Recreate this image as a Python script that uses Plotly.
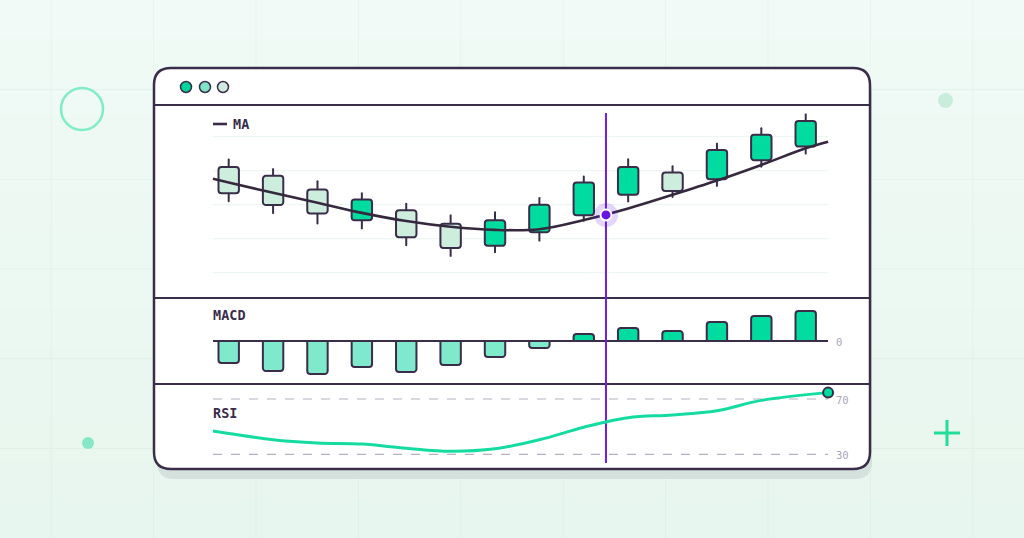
import plotly.graph_objects as go

# ---------------- data ----------------
idx = list(range(14))
open_ = [141.1, 138.5, 134.5, 125.4, 128.4, 124.4, 117.9, 121.9, 126.9, 132.9, 139.5, 137.5, 143.1, 147.1]
high = [143.6, 140.7, 137.2, 133.6, 130.6, 127.1, 128.1, 132.2, 138.6, 143.6, 141.6, 148.2, 152.8, 156.8]
low = [130.7, 127.3, 124.2, 122.8, 117.8, 114.7, 115.7, 119.2, 125.0, 130.7, 132.0, 135.3, 140.9, 144.8]
close = [133.4, 129.9, 127.4, 131.5, 120.4, 117.3, 125.4, 130.0, 136.5, 141.1, 134.0, 146.1, 150.6, 154.6]

ma_x = [-0.354, 0, 1, 2, 3, 4, 5, 6, 7, 8, 9, 10, 11, 12, 13, 13.505]
ma_y = [137.6, 136.5, 133.5, 130.6, 127.6, 125.2, 123.5, 122.6, 122.8, 125.5, 128.9, 132.9, 137.1, 141.7, 146.6, 148.5]

cursor_x = [8.5]
cursor_y = [127.0]

macd = [-2.2, -3.0, -3.3, -2.6, -3.1, -2.4, -1.6, -0.7, 0.7, 1.3, 1.0, 1.9, 2.5, 3.0]

rsi_x = [-0.354, 0, 1, 2, 3, 4, 5, 6, 7, 8, 9, 10, 11, 12, 13.505]
rsi_y = [46.8, 45.1, 40.5, 38.2, 37.4, 34.4, 32.2, 34.0, 40.5, 49.6, 56.5, 58.4, 61.5, 69.0, 74.6]

price_grid = [150, 140, 130, 120, 110]
rsi_levels = [70, 30]
rsi_labels = ["70", "30"]
macd_zero_label = "0"

# ---------------- styling ----------------
W, H = 1024, 538
DARK = "#3a2d4a"
GREEN = "#00dc9f"
LIGHT = "#cdeedd"
MINT = "#7eeacb"
PURPLE = "#6a14e2"
MONO = "DejaVu Sans Mono"


def px(x):
    return x / W


def py(y):
    return 1 - y / H


def rrect(x0, y0, x1, y1, r):
    pts = [
        ("M", [(x0 + r, y0)]), ("L", [(x1 - r, y0)]), ("Q", [(x1, y0), (x1, y0 + r)]),
        ("L", [(x1, y1 - r)]), ("Q", [(x1, y1), (x1 - r, y1)]), ("L", [(x0 + r, y1)]),
        ("Q", [(x0, y1), (x0, y1 - r)]), ("L", [(x0, y0 + r)]), ("Q", [(x0, y0), (x0 + r, y0)]),
    ]
    s = ""
    for cmd, ps in pts:
        s += cmd + " " + " ".join(f"{px(a):.5f},{py(b):.5f}" for a, b in ps) + " "
    return s + "Z"


XDOM = [px(200), px(840)]
XRANGE = [(200 - 228.7) / 44.385, (840 - 228.7) / 44.385]

fig = go.Figure()

# candle wicks
fig.add_trace(go.Bar(
    x=idx, base=low, y=[h - l for h, l in zip(high, low)], width=0.045,
    marker=dict(color=DARK, line=dict(width=0)), xaxis="x", yaxis="y", hoverinfo="skip"))
# candle bodies
fig.add_trace(go.Bar(
    x=idx, base=[min(o, c) for o, c in zip(open_, close)],
    y=[abs(c - o) for o, c in zip(open_, close)], width=0.46,
    marker=dict(color=[GREEN if c > o else LIGHT for o, c in zip(open_, close)],
                line=dict(color=DARK, width=2)),
    xaxis="x", yaxis="y", hoverinfo="skip"))
# MA line
fig.add_trace(go.Scatter(
    x=ma_x, y=ma_y, mode="lines", line=dict(color="#35283f", width=2.6, shape="spline", smoothing=1),
    xaxis="x", yaxis="y", hoverinfo="skip"))
# cursor halo + dot
fig.add_trace(go.Scatter(
    x=cursor_x, y=cursor_y, mode="markers",
    marker=dict(size=24, color="rgba(106,20,226,0.18)", line=dict(width=0)),
    xaxis="x", yaxis="y", hoverinfo="skip"))
fig.add_trace(go.Scatter(
    x=cursor_x, y=cursor_y, mode="markers",
    marker=dict(size=11, color=PURPLE, line=dict(color="white", width=2)),
    xaxis="x", yaxis="y", hoverinfo="skip"))
# MACD
fig.add_trace(go.Bar(
    x=idx, y=macd, width=0.46,
    marker=dict(color=[GREEN if v > 0 else MINT for v in macd], line=dict(color=DARK, width=2)),
    xaxis="x2", yaxis="y2", hoverinfo="skip"))
# RSI
fig.add_trace(go.Scatter(
    x=rsi_x, y=rsi_y, mode="lines", line=dict(color="#14dca0", width=3, shape="spline", smoothing=1),
    xaxis="x3", yaxis="y3", hoverinfo="skip"))
fig.add_trace(go.Scatter(
    x=rsi_x[-1:], y=rsi_y[-1:], mode="markers", cliponaxis=False,
    marker=dict(size=10, color=GREEN, line=dict(color=DARK, width=2)),
    xaxis="x3", yaxis="y3", hoverinfo="skip"))

shapes = []
# background gradient bands
top = (241, 250, 246)
bot = (231, 246, 238)
n = 14
for i in range(n):
    t = i / (n - 1)
    c = tuple(round(top[k] + (bot[k] - top[k]) * t) for k in range(3))
    shapes.append(dict(type="rect", xref="paper", yref="paper", x0=0, x1=1,
                       y0=1 - (i + 1) / n, y1=1 - i / n, fillcolor=f"rgb{c}",
                       line=dict(width=0), layer="below"))
# background grid
for k in range(10):
    x = 51.2 + 102.4 * k
    shapes.append(dict(type="line", xref="paper", yref="paper", x0=px(x), x1=px(x), y0=0, y1=1,
                       line=dict(color="rgba(0,110,70,0.045)", width=1), layer="below"))
for k in range(1, 6):
    y = 89.67 * k
    shapes.append(dict(type="line", xref="paper", yref="paper", x0=0, x1=1, y0=py(y), y1=py(y),
                       line=dict(color="rgba(0,110,70,0.045)", width=1), layer="below"))
# decorations
shapes.append(dict(type="circle", xref="paper", yref="paper", x0=px(61), x1=px(103), y0=py(130), y1=py(88),
                   line=dict(color="#80ecc8", width=2.5), fillcolor="rgba(0,0,0,0)", layer="below"))
shapes.append(dict(type="circle", xref="paper", yref="paper", x0=px(938), x1=px(953), y0=py(108), y1=py(93),
                   line=dict(width=0), fillcolor="#c8eedb", layer="below"))
shapes.append(dict(type="circle", xref="paper", yref="paper", x0=px(82), x1=px(94), y0=py(449), y1=py(437),
                   line=dict(width=0), fillcolor="#88e7c6", layer="below"))
shapes.append(dict(type="line", xref="paper", yref="paper", x0=px(934), x1=px(960), y0=py(433), y1=py(433),
                   line=dict(color="#22dd9c", width=3), layer="below"))
shapes.append(dict(type="line", xref="paper", yref="paper", x0=px(947), x1=px(947), y0=py(420), y1=py(446),
                   line=dict(color="#22dd9c", width=3), layer="below"))
# card shadow and card
shapes.append(dict(type="path", xref="paper", yref="paper", path=rrect(157, 77, 872, 479, 17),
                   fillcolor="#d4e1dc", line=dict(width=0), layer="below"))
shapes.append(dict(type="path", xref="paper", yref="paper", path=rrect(154, 68, 870, 469, 17),
                   fillcolor="white", line=dict(color=DARK, width=2.5), layer="below"))
# separators
for y in [105, 298, 384]:
    shapes.append(dict(type="line", xref="paper", yref="paper", x0=px(155), x1=px(869), y0=py(y), y1=py(y),
                       line=dict(color=DARK, width=2), layer="below"))
# window dots
for cx, col in [(186, "#00d49a"), (205, "#7fe3c6"), (223, "#cfeadf")]:
    shapes.append(dict(type="circle", xref="paper", yref="paper", x0=px(cx - 5.5), x1=px(cx + 5.5),
                       y0=py(87 + 5.5), y1=py(87 - 5.5), fillcolor=col,
                       line=dict(color=DARK, width=1.5), layer="below"))
# price gridlines
for v in price_grid:
    shapes.append(dict(type="line", xref="paper", yref="y", x0=px(213), x1=px(828), y0=v, y1=v,
                       line=dict(color="#edf6f2", width=1.2), layer="below"))
# MA legend swatch
shapes.append(dict(type="line", xref="paper", yref="paper", x0=px(213), x1=px(227), y0=py(124), y1=py(124),
                   line=dict(color=DARK, width=2.6), layer="below"))
# MACD zero line
shapes.append(dict(type="line", xref="paper", yref="y2", x0=px(213), x1=px(828), y0=0, y1=0,
                   line=dict(color=DARK, width=2), layer="below"))
# RSI levels
for v in rsi_levels:
    shapes.append(dict(type="line", xref="paper", yref="y3", x0=px(213), x1=px(828), y0=v, y1=v,
                       line=dict(color="#b4b2c2", width=1.2, dash="dash"), layer="below"))
# crosshair
shapes.append(dict(type="line", xref="x", yref="paper", x0=cursor_x[0], x1=cursor_x[0],
                   y0=py(463), y1=py(113), line=dict(color="#6c1ee6", width=2), layer="below"))

annotations = []


def label(text, x, y, size=13.5, color=DARK, bold=True, anchor="left"):
    annotations.append(dict(text=f"<b>{text}</b>" if bold else text, x=px(x), y=py(y), xref="paper",
                            yref="paper", xanchor=anchor, yanchor="middle", showarrow=False,
                            font=dict(family=MONO, size=size, color=color)))


label("MA", 231, 124)
label("MACD", 211, 315)
label("RSI", 211, 413)
label(macd_zero_label, 834, 342, size=10.5, color="#a9a6b9", bold=False)
label(rsi_labels[0], 834, 400, size=10.5, color="#a9a6b9", bold=False)
label(rsi_labels[1], 834, 455, size=10.5, color="#a9a6b9", bold=False)

axis_common = dict(visible=False, fixedrange=True)
fig.update_layout(
    width=W, height=H, margin=dict(l=0, r=0, t=0, b=0),
    paper_bgcolor="#eef8f3", plot_bgcolor="rgba(0,0,0,0)",
    showlegend=False, hovermode=False, barmode="overlay", barcornerradius=3,
    xaxis=dict(domain=XDOM, range=XRANGE, anchor="y", **axis_common),
    xaxis2=dict(domain=XDOM, range=XRANGE, anchor="y2", **axis_common),
    xaxis3=dict(domain=XDOM, range=XRANGE, anchor="y3", **axis_common),
    yaxis=dict(domain=[py(296), py(108)], range=[103.15, 158.44], anchor="x", **axis_common),
    yaxis2=dict(domain=[py(382), py(302)], range=[-4.1, 3.9], anchor="x2", **axis_common),
    yaxis3=dict(domain=[py(466), py(388)], range=[21.54, 77.94], anchor="x3", **axis_common),
    shapes=shapes, annotations=annotations,
)

fig.write_html("out.html", config={"displayModeBar": False, "staticPlot": True},
               post_script="document.body.style.margin='0';document.body.style.overflow='hidden';")
